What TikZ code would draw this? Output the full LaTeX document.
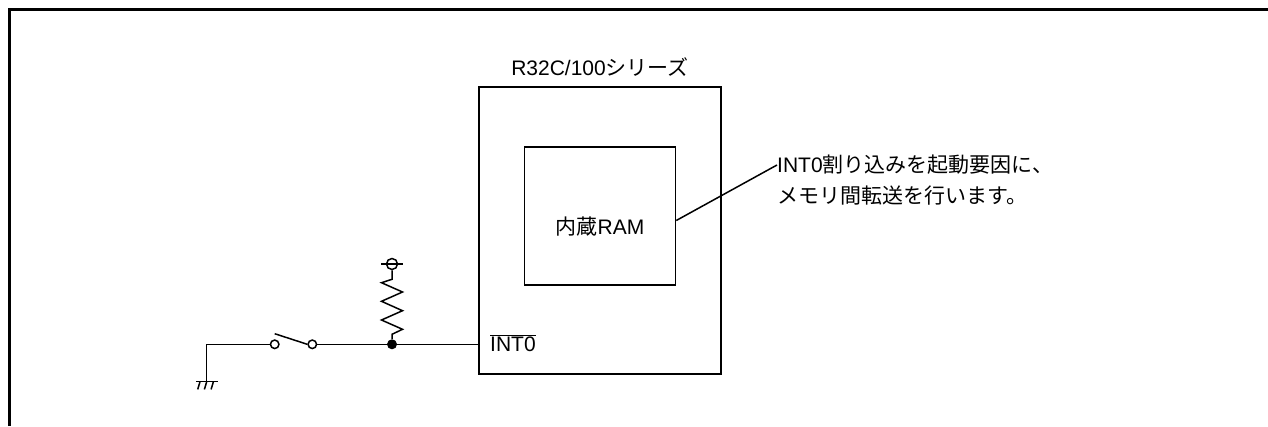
\documentclass[tikz,border=0pt]{standalone}
\usepackage{fontspec}
\setmainfont{Liberation Sans}
\newfontfamily\cjk{Noto Sans CJK JP}
\usetikzlibrary{positioning}

\tikzset{
  wire/.style={line width=1.5pt},
  box/.style={draw, line width=1.5pt, inner sep=0pt},
  term/.style={circle, draw, line width=1.5pt, fill=white, inner sep=0pt, minimum size=8.5pt},
  dot/.style={circle, fill=black, inner sep=0pt, minimum size=10pt},
  txt/.style={inner sep=0pt, font=\fontsize{21}{25}\selectfont}
}

\begin{document}
\begin{tikzpicture}[x=1pt,y=-1pt,on grid,node distance=20pt]
  \useasboundingbox (0,0) rectangle (1268,426);
  \draw[line width=3pt] (9.5,426) -- (9.5,9.5) -- (1268,9.5);

  \node[box, minimum width=242pt, minimum height=287pt] (chip) at (600,230.5) {};
    \node[txt] (chip_lbl) [above=163.5pt of chip] {R32C/100{\cjk シリーズ}};
    \node[box, minimum width=151pt, minimum height=138pt] (ram) [above=14.5pt of chip] {};
      \node[txt] (ram_lbl) [below=11pt of ram] {{\cjk 内蔵}RAM};
      \coordinate (ram_tap) at (ram.east |- 0,220.5);
    \node[txt] (int_lbl) [below left=120.5pt and 110pt of chip, anchor=base west] {$\overline{\mbox{INT0}}$};
  \node[txt, anchor=west] (note_a) at (777,165) {INT0{\cjk 割り込みを起動要因に、}};
    \node[txt] (note_b) [below=31pt of note_a.west, anchor=west] {\cjk メモリ間転送を行います。};

  \node[dot] (j_0) [below left=113.8pt and 208pt of chip] {};
    \node[term] (sw_b) [left=79.7pt of j_0] {};
    \node[term] (sw_a) [left=37.6pt of sw_b] {};
    \coordinate[above=10.6pt of sw_a] (arm_0);
    \coordinate[left=68pt of sw_a] (gnd_c);
    \coordinate[below=37.4pt of gnd_c] (gnd);
    \coordinate[above=10pt of j_0] (res_a);
    \coordinate[above=65pt of j_0] (res_b);
    \node[circle, draw, line width=1.5pt, inner sep=0pt, minimum size=11pt] (vcc) [above=80.3pt of j_0] {};

  \draw[wire] (ram_tap) -- (note_a.west);
  \draw[wire] (j_0) -- (j_0 -| chip.west);
  \draw[wire] (j_0) -- (sw_b);
  \draw[wire] (sw_a) -- (gnd_c) -- (gnd);
  \draw[wire] (arm_0) -- (sw_b.west);
  \draw[wire] (gnd) +(-10.8,0) -- +(10.8,0);
  \foreach \i in {-6.7,0,6.7}
    \draw[wire] (gnd) ++(\i,0) -- ++(-2.3,7.7);

  \draw[wire] (j_0) -- (res_a) -- ++(10.5,-5) -- ++(-21,-9.3) -- ++(21,-9.3)
    -- ++(-21,-9.4) -- ++(21,-9.3) -- ++(-21,-9.3) -- (res_b) -- (vcc);
  \draw[wire] (vcc.center) +(-11,0) -- +(11,0);
\end{tikzpicture}
\end{document}
